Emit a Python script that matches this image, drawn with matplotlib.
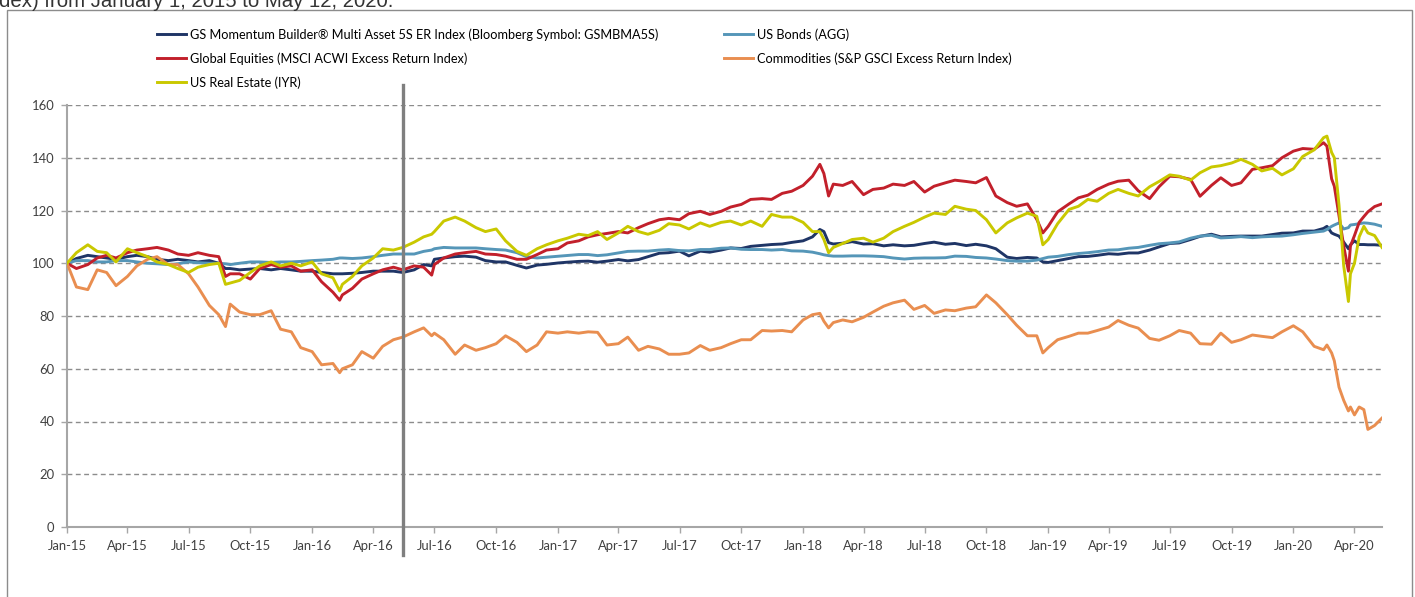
import pandas as pd
import matplotlib
matplotlib.use("Agg")
import matplotlib.pyplot as plt
import matplotlib.dates as mdates
from matplotlib.patches import Rectangle

# semi-monthly sample dates, with extra points around the sharp moves
dates = [
    "2015-01-01", "2015-01-15", "2015-02-01", "2015-02-15", "2015-03-01", "2015-03-15",
    "2015-04-01", "2015-04-15", "2015-05-01", "2015-05-15", "2015-06-01", "2015-06-15",
    "2015-07-01", "2015-07-15", "2015-08-01", "2015-08-15", "2015-08-25", "2015-09-01",
    "2015-09-15", "2015-10-01", "2015-10-15", "2015-11-01", "2015-11-15", "2015-12-01",
    "2015-12-15",
    "2016-01-01", "2016-01-15", "2016-02-01", "2016-02-11", "2016-02-15", "2016-03-01",
    "2016-03-15", "2016-04-01", "2016-04-15", "2016-05-01", "2016-05-15", "2016-06-01",
    "2016-06-15", "2016-06-27", "2016-07-01", "2016-07-15", "2016-08-01", "2016-08-15",
    "2016-09-01", "2016-09-15", "2016-10-01", "2016-10-15", "2016-11-01", "2016-11-15",
    "2016-12-01", "2016-12-15",
    "2017-01-01", "2017-01-15", "2017-02-01", "2017-02-15", "2017-03-01", "2017-03-15",
    "2017-04-01", "2017-04-15", "2017-05-01", "2017-05-15", "2017-06-01", "2017-06-15",
    "2017-07-01", "2017-07-15", "2017-08-01", "2017-08-15", "2017-09-01", "2017-09-15",
    "2017-10-01", "2017-10-15", "2017-11-01", "2017-11-15", "2017-12-01", "2017-12-15",
    "2018-01-01", "2018-01-15", "2018-01-26", "2018-02-01", "2018-02-08", "2018-02-15",
    "2018-03-01", "2018-03-15", "2018-04-01", "2018-04-15", "2018-05-01", "2018-05-15",
    "2018-06-01", "2018-06-15", "2018-07-01", "2018-07-15", "2018-08-01", "2018-08-15",
    "2018-09-01", "2018-09-15", "2018-10-01", "2018-10-15", "2018-11-01", "2018-11-15",
    "2018-12-01", "2018-12-15", "2018-12-24",
    "2019-01-01", "2019-01-15", "2019-02-01", "2019-02-15", "2019-03-01", "2019-03-15",
    "2019-04-01", "2019-04-15", "2019-05-01", "2019-05-15", "2019-06-01", "2019-06-15",
    "2019-07-01", "2019-07-15", "2019-08-01", "2019-08-15", "2019-09-01", "2019-09-15",
    "2019-10-01", "2019-10-15", "2019-11-01", "2019-11-15", "2019-12-01", "2019-12-15",
    "2020-01-01", "2020-01-15", "2020-02-01", "2020-02-15", "2020-02-20", "2020-02-27",
    "2020-03-02", "2020-03-09", "2020-03-16", "2020-03-23", "2020-03-26", "2020-04-01",
    "2020-04-08", "2020-04-15", "2020-04-21", "2020-05-01", "2020-05-12",
]

gs_momentum = [
    100, 101.8, 103, 102.5, 102, 101.5, 102.5, 103, 102.5, 101.5, 101, 101.5, 101, 100.5,
    101, 100, 98, 98, 97.5, 97.8, 98, 97.5, 98, 97.5, 97,
    97, 96.5, 96, 96, 96, 96.2, 96.5, 97, 97, 97, 96.5, 97.5, 99.5, 99, 101.5, 102, 102.5,
    102.7, 102.3, 101, 100.5, 100.5, 99.2, 98.2, 99.3, 99.6,
    100.1, 100.4, 100.7, 100.8, 100.4, 100.8, 101.4, 100.9, 101.4, 102.5, 103.8, 104, 104.6,
    102.8, 104.6, 104.2, 105, 105.8, 105.6, 106.4, 106.8, 107.1, 107.3, 107.9,
    108.5, 110, 112.8, 112, 107.8, 107.3, 107.6, 108.2, 107.3, 107.4, 106.6, 107, 106.6,
    106.8, 107.5, 108, 107.2, 107.5, 106.7, 107.2, 106.6, 105.5, 102.3, 101.8, 102.2, 102,
    100.5,
    100.3, 101, 101.8, 102.5, 102.6, 103, 103.6, 103.4, 103.9, 103.9, 105, 106.2, 107.5,
    107.7, 109, 110.2, 111, 110, 110.2, 110.3, 110.3, 110.3, 110.9, 111.4,
    111.5, 112.2, 112.2, 113.2, 114, 111.5, 111, 110.3, 108, 105.5, 107, 108.5, 107.1, 107.1,
    107, 107, 106.8,
]

us_bonds = [
    100, 101, 101, 100.5, 100.5, 101, 101, 100.5, 100, 99.8, 99.5, 99.8, 100.5, 100.2, 100,
    100, 99.8, 99.5, 100, 100.5, 100.5, 100.3, 100.5, 100.5, 100.7,
    101, 101.2, 101.5, 102, 102, 101.8, 102, 102.5, 103, 103.5, 103.5, 103.5, 104.5, 105,
    105.5, 106, 105.8, 105.8, 105.8, 105.5, 105.2, 105, 104, 102.5, 102, 102.3,
    102.7, 103, 103.3, 103.3, 102.9, 103.2, 103.9, 104.5, 104.6, 104.6, 105, 105.2, 104.8,
    104.7, 105.2, 105.2, 105.7, 105.8, 105.3, 105.2, 105.2, 105, 105.2, 104.7,
    104.6, 104.2, 103.6, 103.2, 102.9, 102.7, 102.7, 102.8, 102.8, 102.7, 102.5, 102, 101.6,
    101.9, 102, 102, 102.1, 102.7, 102.6, 102.2, 102, 101.6, 101, 100.8, 100.8, 101.2, 101.8,
    102.3, 102.6, 103.3, 103.7, 104, 104.4, 105, 105.1, 105.7, 106, 106.8, 107.4, 107.7,
    108.1, 109.5, 110.3, 110.6, 109.6, 109.8, 110.1, 109.7, 110, 110.2, 110.3,
    110.8, 111.3, 111.8, 112.2, 112.8, 114, 114.5, 115.3, 113, 113.5, 114.5, 114.7, 115,
    115.3, 115.2, 114.8, 114,
]

global_equities = [
    100, 98, 99.5, 102, 103, 102, 104, 105, 105.5, 106, 105, 103.5, 103, 104, 103, 102.5,
    95, 96, 96, 94, 98, 99.5, 98.5, 99, 97,
    97.5, 93, 89, 86, 88, 90.5, 94, 96, 97.5, 98.5, 97.5, 99, 98.5, 95.5, 99.5, 102, 103.5,
    104, 104.5, 103.5, 103.3, 102.7, 101.5, 101.5, 103.3, 105,
    105.5, 107.7, 108.5, 110, 110.8, 111.3, 112, 111.5, 113.5, 115, 116.5, 117, 116.5, 118.8,
    119.7, 118.5, 119.7, 121.3, 122.3, 124.2, 124.5, 124.2, 126.5, 127.3,
    129.5, 133, 137.5, 134, 125.5, 130, 129.5, 131, 126, 128, 128.5, 130, 129.5, 131, 127,
    129.2, 130.5, 131.5, 131, 130.5, 132.5, 125.5, 123, 121.6, 122.5, 116.6, 111.5,
    114, 119.5, 122.5, 124.8, 125.8, 128, 130, 131.1, 131.5, 127.5, 124.5, 129, 133, 132.8,
    131.8, 125.4, 129.5, 132.4, 129.5, 130.5, 135.6, 136.2, 137, 140,
    142.5, 143.5, 143.2, 145.7, 144.4, 132, 129.2, 118, 106.5, 97, 106.5, 110.5, 115.5,
    117.7, 119.5, 121.5, 122.5,
]

commodities = [
    100, 91, 90, 97.5, 96.5, 91.5, 95, 99, 101.5, 102.5, 99.5, 99.5, 96, 91, 84, 80.5, 76,
    84.5, 81.5, 80.5, 80.5, 82, 75, 74, 68,
    66.5, 61.5, 62, 58.5, 60, 61.5, 66.5, 64, 68.5, 71, 72, 74, 75.5, 72.5, 73.5, 71, 65.5,
    69, 67, 68, 69.5, 72.5, 70, 66.5, 69, 74,
    73.5, 74, 73.5, 74, 73.8, 69, 69.5, 72, 67, 68.5, 67.5, 65.5, 65.5, 66, 68.8, 67, 68,
    69.5, 71, 71, 74.5, 74.3, 74.5, 74,
    78.5, 80.5, 81, 78, 75.5, 77.5, 78.5, 77.8, 79.5, 81.5, 83.7, 85, 86, 82.5, 84, 81, 82.3,
    82, 83, 83.5, 88, 85, 80.5, 76.5, 72.5, 72.5, 66,
    68, 71, 72.3, 73.5, 73.5, 74.5, 75.8, 78.3, 76.5, 75.4, 71.5, 70.8, 72.5, 74.5, 73.5,
    69.5, 69.3, 73.5, 70, 71, 72.8, 72.3, 71.8, 74,
    76.3, 74, 68.5, 67.2, 69, 66, 63, 53, 48, 44, 45.5, 42.5, 45.5, 44.5, 37, 38.5, 41.3,
]

us_real_estate = [
    100, 104, 107, 104.5, 104, 100.5, 105.5, 104, 102.5, 100.5, 99.5, 98, 96.5, 98.5, 99.5,
    100, 92, 92.5, 93.5, 96.5, 99, 100.5, 99, 100, 99,
    100.5, 96, 94.5, 89.5, 92, 95, 99, 102, 105.5, 105, 106, 108, 110, 111, 112, 116, 117.5,
    116, 113.5, 112, 113, 108.5, 104.5, 103, 105.5, 107,
    108.5, 109.5, 111, 110.5, 112, 109, 111.5, 114, 112, 111, 112.5, 115, 114.5, 113, 115.3,
    114, 115.5, 116, 114.5, 116, 114, 118.5, 117.5, 117.5,
    115.5, 112, 112, 109, 104, 106, 107.5, 109, 109.5, 108, 109.5, 112, 114, 115.5, 117.5,
    119, 118.5, 121.6, 120.5, 120, 116.5, 111.5, 115.3, 117.2, 119, 117.8, 107,
    109, 115, 120.4, 121.6, 124.2, 123.5, 126.5, 128, 126.5, 125.5, 129, 131, 133.5, 133,
    131.5, 134.3, 136.5, 137, 138, 139.4, 137.5, 135, 136, 133.5,
    135.8, 140.5, 143, 147.6, 148.2, 142, 140, 122, 99, 85.5, 96, 100, 110, 114, 111.5,
    110.5, 106,
]

launch_date = "2016-05-15"
y_ticks = [0, 20, 40, 60, 80, 100, 120, 140, 160]

W, H = 1415, 597


def main():
    plt.rcParams['font.family'] = ['Lato', 'DejaVu Sans']
    fig = plt.figure(figsize=(W / 100, H / 100), dpi=100)
    ax = fig.add_axes([67 / W, 1 - 527 / H, (1382 - 67) / W, (527 - 105) / H])

    x = pd.to_datetime(dates)
    lw = 2.1
    gs, = ax.plot(x, gs_momentum, color='#1f3566', lw=lw, zorder=3,
                  label='GS Momentum Builder® Multi Asset 5S ER Index (Bloomberg Symbol: GSMBMA5S)')
    agg, = ax.plot(x, us_bonds, color='#5596b8', lw=lw, zorder=3, label='US Bonds (AGG)')
    eq, = ax.plot(x, global_equities, color='#c2202b', lw=lw, zorder=3,
                  label='Global Equities (MSCI ACWI Excess Return Index)')
    com, = ax.plot(x, commodities, color='#e98e50', lw=lw, zorder=3,
                   label='Commodities (S&P GSCI Excess Return Index)')
    re, = ax.plot(x, us_real_estate, color='#c9c800', lw=lw, zorder=3, label='US Real Estate (IYR)')

    # launch marker, runs past the plot area
    ld = pd.Timestamp(launch_date)
    ax.plot([ld, ld], [-10.6, 167.6], color='#7f7f7f', lw=2.4, clip_on=False, zorder=5)

    ax.set_xlim(pd.Timestamp("2015-01-01"), pd.Timestamp("2020-05-12"))
    ax.set_ylim(0, 160)
    ax.set_yticks(y_ticks)
    ax.xaxis.set_major_locator(mdates.MonthLocator(bymonth=[1, 4, 7, 10]))
    ax.xaxis.set_major_formatter(mdates.DateFormatter('%b-%y'))

    ax.yaxis.grid(True, color='#8c8c8c', linestyle=(0, (3.5, 2.5)), lw=1.0)
    ax.set_axisbelow(True)
    for s in ['top', 'right']:
        ax.spines[s].set_visible(False)
    for s in ['left', 'bottom']:
        ax.spines[s].set_color('#a6a6a6')
        ax.spines[s].set_linewidth(1.5)
    ax.tick_params(axis='both', colors='#a6a6a6', labelcolor='#404040', labelsize=9.4,
                   length=4, width=1)
    ax.tick_params(axis='x', pad=5)
    ax.tick_params(axis='y', pad=5)

    leg_kw = dict(frameon=False, fontsize=9.2, handlelength=2.3, handletextpad=0.25,
                  labelspacing=0.9, borderpad=0, borderaxespad=0, loc='upper left',
                  bbox_transform=fig.transFigure)
    leg1 = ax.legend(handles=[gs, eq, re], bbox_to_anchor=(157 / W, 1 - 28 / H), **leg_kw)
    ax.add_artist(leg1)
    ax.legend(handles=[agg, com], bbox_to_anchor=(724 / W, 1 - 28 / H), **leg_kw)

    # clipped caption line and the outer frame
    fig.text(-1 / W, 1 - 7 / H, "dex) from January 1, 2015 to May 12, 2020.",
             fontsize=14.7, family='Liberation Sans', color='#333333', va='baseline')
    fig.patches.append(Rectangle((7 / W, -0.05), (1412 - 7) / W, 1.05 - 10 / H,
                                 transform=fig.transFigure, fill=False,
                                 edgecolor='#8c8c8c', lw=1))

    fig.savefig('out.png', dpi=100)


if __name__ == "__main__":
    main()
